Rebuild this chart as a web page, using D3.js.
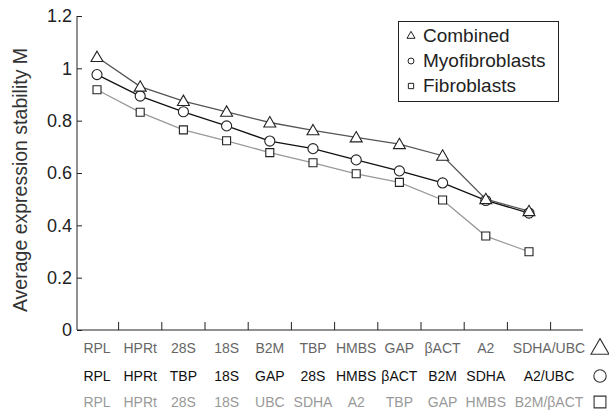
<!DOCTYPE html>
<html>
<head>
<meta charset="utf-8">
<script src="https://cdn.jsdelivr.net/npm/d3@7/dist/d3.min.js"></script>
<style>
  html, body { margin: 0; padding: 0; background: #fff; }
  svg { display: block; }
  text { font-family: "Liberation Sans", Arial, sans-serif; }
</style>
</head>
<body>
<svg id="chart" width="609" height="410"></svg>
<script>
// ---- data ----
const positions = [1, 2, 3, 4, 5, 6, 7, 8, 9, 10, 11];
const combinedValues = [1.043, 0.930, 0.875, 0.834, 0.793, 0.763, 0.736, 0.710, 0.666, 0.500, 0.454];
const myofibroblastValues = [0.976, 0.894, 0.834, 0.780, 0.722, 0.693, 0.650, 0.608, 0.562, 0.495, 0.447];
const fibroblastValues = [0.918, 0.832, 0.765, 0.723, 0.678, 0.639, 0.597, 0.564, 0.497, 0.359, 0.299];
const combinedLabels = ["RPL", "HPRt", "28S", "18S", "B2M", "TBP", "HMBS", "GAP", "βACT", "A2", "SDHA/UBC"];
const myofibroblastLabels = ["RPL", "HPRt", "TBP", "18S", "GAP", "28S", "HMBS", "βACT", "B2M", "SDHA", "A2/UBC"];
const fibroblastLabels = ["RPL", "HPRt", "28S", "18S", "UBC", "SDHA", "A2", "TBP", "GAP", "HMBS", "B2M/βACT"];
const yTicks = [0, 0.2, 0.4, 0.6, 0.8, 1, 1.2];
const seriesNames = ["Combined", "Myofibroblasts", "Fibroblasts"];

const series = [
  { name: seriesNames[0], values: combinedValues, labels: combinedLabels, symbol: d3.symbolTriangle, line: "#555", text: "#666" },
  { name: seriesNames[1], values: myofibroblastValues, labels: myofibroblastLabels, symbol: d3.symbolCircle, line: "#111", text: "#111" },
  { name: seriesNames[2], values: fibroblastValues, labels: fibroblastLabels, symbol: d3.symbolSquare, line: "#999", text: "#999" }
];

const svg = d3.select("#chart");
const x0 = 77, xEnd = 583, yTop = 16, yBot = 330;

const x = d3.scaleBand().domain(positions).range([75.4, 550.6]).padding(0);
const xc = p => x(p) + x.bandwidth() / 2;
const y = d3.scaleLinear().domain([0, 1.2]).range([yBot, yTop]);

// axes
const gy = svg.append("g").attr("transform", `translate(${x0},0)`);
gy.call(d3.axisRight(y).tickValues(yTicks).tickSize(5).tickFormat(d3.format("~g")));
gy.select(".domain").attr("d", `M0,${yTop}V${yBot}`).attr("stroke", "#222");
gy.selectAll(".tick line").attr("stroke", "#222");
gy.selectAll(".tick text").attr("x", -5).attr("text-anchor", "end")
  .attr("font-size", 18).attr("fill", "#222").attr("font-family", "Liberation Sans, Arial, sans-serif");

const gx = svg.append("g").attr("transform", `translate(0,${yBot})`);
gx.append("line").attr("x1", x0).attr("x2", xEnd).attr("y1", 0).attr("y2", 0).attr("stroke", "#222");
gx.selectAll(".xt").data(positions).join("line")
  .attr("class", "xt")
  .attr("x1", p => x(p) + x.bandwidth()).attr("x2", p => x(p) + x.bandwidth())
  .attr("y1", 0).attr("y2", -8).attr("stroke", "#222");

// y title
svg.append("text")
  .attr("transform", `translate(27,${(yTop + yBot) / 2 + 7}) rotate(-90)`)
  .attr("text-anchor", "middle").attr("font-size", 19.5).attr("fill", "#333")
  .text("Average expression stability M");

// lines (draw fibroblasts first)
const line = d3.line().x((d, i) => xc(positions[i])).y(d => y(d));
[...series].reverse().forEach(s => {
  svg.append("path").datum(s.values).attr("d", line)
    .attr("fill", "none").attr("stroke", s.line).attr("stroke-width", 1.3);
});

// markers
const symSize = { "Combined": 62, "Myofibroblasts": 80, "Fibroblasts": 64 };
[...series].reverse().forEach(s => {
  svg.append("g").selectAll("path").data(s.values).join("path")
    .attr("transform", (d, i) => `translate(${xc(positions[i])},${y(d) + (s.symbol === d3.symbolTriangle ? 1 : 0)})`)
    .attr("d", d3.symbol().type(s.symbol).size(symSize[s.name]))
    .attr("fill", "#fff").attr("stroke", "#222").attr("stroke-width", 1.1);
});

// category label rows
const rowY = [353, 381, 407];
series.forEach((s, r) => {
  svg.append("g").selectAll("text").data(s.labels).join("text")
    .attr("x", (d, i) => xc(positions[i]) + (i === positions.length - 1 ? 20 : 0))
    .attr("y", rowY[r])
    .attr("text-anchor", "middle").attr("font-size", 14).attr("fill", s.text)
    .text(d => d);
  svg.append("path")
    .attr("transform", `translate(600,${rowY[r] - 5 + (r === 0 ? 1 : 0)})`)
    .attr("d", d3.symbol().type(s.symbol).size(r === 0 ? 140 : r === 1 ? 120 : 140))
    .attr("fill", "#fff").attr("stroke", "#333").attr("stroke-width", 1.1);
});

// legend
const lg = svg.append("g");
lg.append("rect").attr("x", 398.5).attr("y", 21.5).attr("width", 160).attr("height", 80)
  .attr("fill", "#fff").attr("stroke", "#222").attr("stroke-width", 1);
series.forEach((s, r) => {
  const by = 42 + r * 25;
  lg.append("path").attr("transform", `translate(411,${by - 6})`)
    .attr("d", d3.symbol().type(s.symbol).size(28))
    .attr("fill", "#fff").attr("stroke", "#222").attr("stroke-width", 1);
  lg.append("text").attr("x", 423).attr("y", by).attr("font-size", 19).attr("fill", "#222").text(s.name);
});
</script>
</body>
</html>
